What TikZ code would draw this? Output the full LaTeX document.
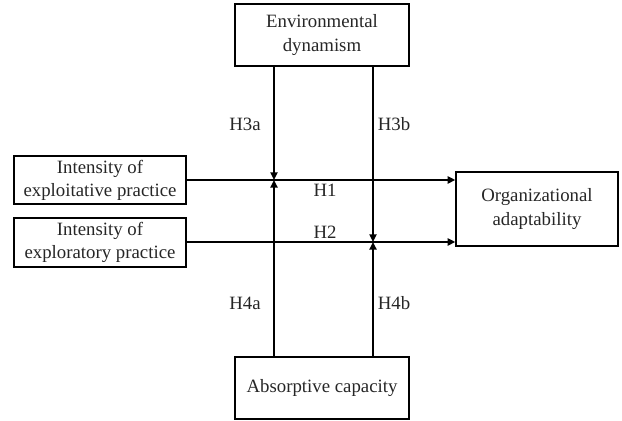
\documentclass[tikz,border=0pt]{standalone}
\usepackage{fontspec}
\setmainfont{Liberation Serif}
\usetikzlibrary{arrows.meta}
\begin{document}
\begin{tikzpicture}[x=0.5pt,y=-0.5pt,
  box/.style={draw, line width=0.7pt, align=center, inner sep=0pt,
    font=\fontsize{9.4}{11.6}\selectfont, text=black!85},
  conn/.style={line width=0.7pt, -{Triangle[length=3.8pt,width=3.6pt]}},
  lbl/.style={font=\fontsize{9.4}{11.6}\selectfont, inner sep=0pt, text=black!85}]
\useasboundingbox (0,0) rectangle (622,421);
\node[box, minimum width=87pt, minimum height=31pt] (top) at (322,35) {Environmental\\dynamism};
\node[box, minimum width=86pt, minimum height=24pt] (ex1) at (100,180) {Intensity of\\exploitative practice};
\node[box, minimum width=86pt, minimum height=24.5pt] (ex2) at (100,242.5) {Intensity of\\exploratory practice};
\node[box, minimum width=81pt, minimum height=37pt] (org) at (537,209) {Organizational\\adaptability};
\node[box, minimum width=87pt, minimum height=31pt] (abs) at (322,388) {Absorptive capacity};
\coordinate (m1) at (274,180);
\coordinate (m2) at (373,242);
\draw[conn] (ex1.east) -- (ex1.east -| org.west);
\draw[conn] (ex2.east |- m2) -- (m2 -| org.west);
\draw[conn] (top.south -| m1) -- (m1);
\draw[conn] (abs.north -| m1) -- (m1);
\draw[conn] (top.south -| m2) -- (m2);
\draw[conn] (abs.north -| m2) -- (m2);
\node[lbl] (h3a) at (245,124) {H3a};
\node[lbl] (h3b) at (394,124) {H3b};
\node[lbl] (h1) at (325,190) {H1};
\node[lbl] (h2) at (325,232) {H2};
\node[lbl] (h4a) at (245,303) {H4a};
\node[lbl] (h4b) at (394,303) {H4b};
\end{tikzpicture}
\end{document}
